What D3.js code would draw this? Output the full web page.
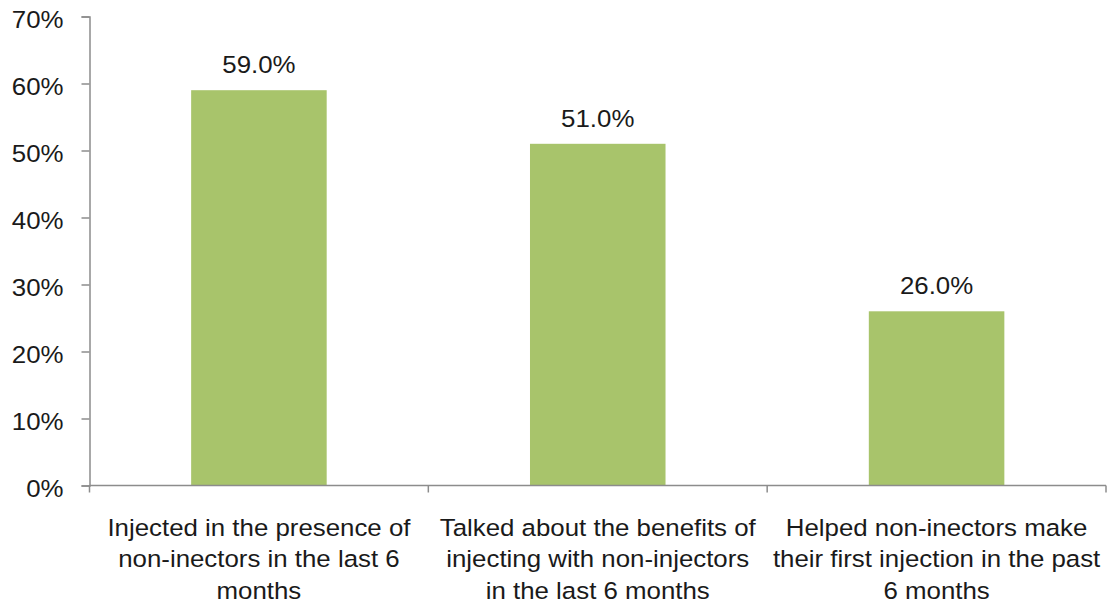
<!DOCTYPE html>
<html>
<head>
<meta charset="utf-8">
<script src="https://cdn.jsdelivr.net/npm/d3@7"></script>
<style>
  html, body { margin: 0; padding: 0; background: #fff; }
  svg { display: block; font-family: "Liberation Sans", Arial, sans-serif; }
</style>
</head>
<body>
<svg id="chart" width="1110" height="605"></svg>
<script>
// Share of respondents for each behaviour
const categories = [
  ["Injected in the presence of", "non-inectors in the last 6", "months"],
  ["Talked about the benefits of", "injecting with non-injectors", "in the last 6 months"],
  ["Helped non-inectors make", "their first injection in the past", "6 months"]
];
const values = [59.0, 51.0, 26.0];
const yTicks = [0, 10, 20, 30, 40, 50, 60, 70];

const svg = d3.select("#chart");
const margin = { left: 89.5, right: 4, top: 16.5, bottom: 119.5 };
const width = 1110, height = 605;
const fontSize = 23.5;
const stretch = 1.1;   // slightly wide lettering

const x = d3.scaleBand()
  .domain(d3.range(values.length))
  .range([margin.left, width - margin.right])
  .paddingInner(0.6)
  .paddingOuter(0.3);

const y = d3.scaleLinear()
  .domain([0, 70])
  .range([height - margin.bottom, margin.top]);

const axisColor = "#8c8c8c";
const textColor = "#1a1a1a";

// Bars
svg.append("g")
  .selectAll("rect")
  .data(values)
  .join("rect")
  .attr("x", (d, i) => x(i))
  .attr("y", d => y(d))
  .attr("width", x.bandwidth())
  .attr("height", d => y(0) - y(d))
  .attr("fill", "#a8c46b");

// Value labels
svg.append("g")
  .selectAll("text")
  .data(values)
  .join("text")
  .attr("transform", (d, i) =>
    `translate(${x(i) + x.bandwidth() / 2},${y(d) - 17}) scale(${stretch},1)`)
  .attr("text-anchor", "middle")
  .attr("font-size", fontSize)
  .attr("fill", textColor)
  .text(d => d.toFixed(1) + "%");

// Y axis
const yAxis = svg.append("g")
  .attr("transform", `translate(${margin.left},0)`)
  .call(d3.axisLeft(y).tickValues(yTicks).tickSize(8).tickPadding(18)
    .tickFormat(d => d + "%"));
yAxis.select(".domain").attr("stroke", axisColor).attr("stroke-width", 1.5);
yAxis.selectAll(".tick line").attr("stroke", axisColor).attr("stroke-width", 1.5);
yAxis.selectAll(".tick text")
  .attr("x", 0)
  .attr("dy", "0.47em")
  .attr("transform", `translate(-26,0) scale(${stretch},1)`)
  .attr("font-size", fontSize)
  .attr("fill", textColor)
  .attr("font-family", "Liberation Sans, Arial, sans-serif");

// X axis baseline with boundary ticks between categories
const step = x.step();
const boundaries = d3.range(values.length + 1).map(i =>
  i === 0 ? margin.left : x(i - 1) + x.bandwidth() + step * x.paddingInner() / 2 + (i === values.length ? step * (x.paddingOuter() - x.paddingInner() / 2) : 0));
const xAxis = svg.append("g");
xAxis.append("line")
  .attr("x1", margin.left).attr("x2", width - margin.right)
  .attr("y1", y(0)).attr("y2", y(0))
  .attr("stroke", axisColor).attr("stroke-width", 1.5);
xAxis.selectAll("line.tick")
  .data(boundaries)
  .join("line")
  .attr("class", "tick")
  .attr("x1", d => d).attr("x2", d => d)
  .attr("y1", y(0)).attr("y2", y(0) + 7)
  .attr("stroke", axisColor).attr("stroke-width", 1.5);

// Category labels
const labels = svg.append("g")
  .selectAll("text")
  .data(categories)
  .join("text")
  .attr("transform", (d, i) =>
    `translate(${x(i) + x.bandwidth() / 2},${y(0) + 50.5}) scale(${stretch},1)`)
  .attr("text-anchor", "middle")
  .attr("font-size", fontSize)
  .attr("fill", textColor);
labels.selectAll("tspan")
  .data(d => d)
  .join("tspan")
  .attr("x", 0)
  .attr("dy", (d, i) => i === 0 ? 0 : 31.5)
  .text(d => d);
</script>
</body>
</html>
